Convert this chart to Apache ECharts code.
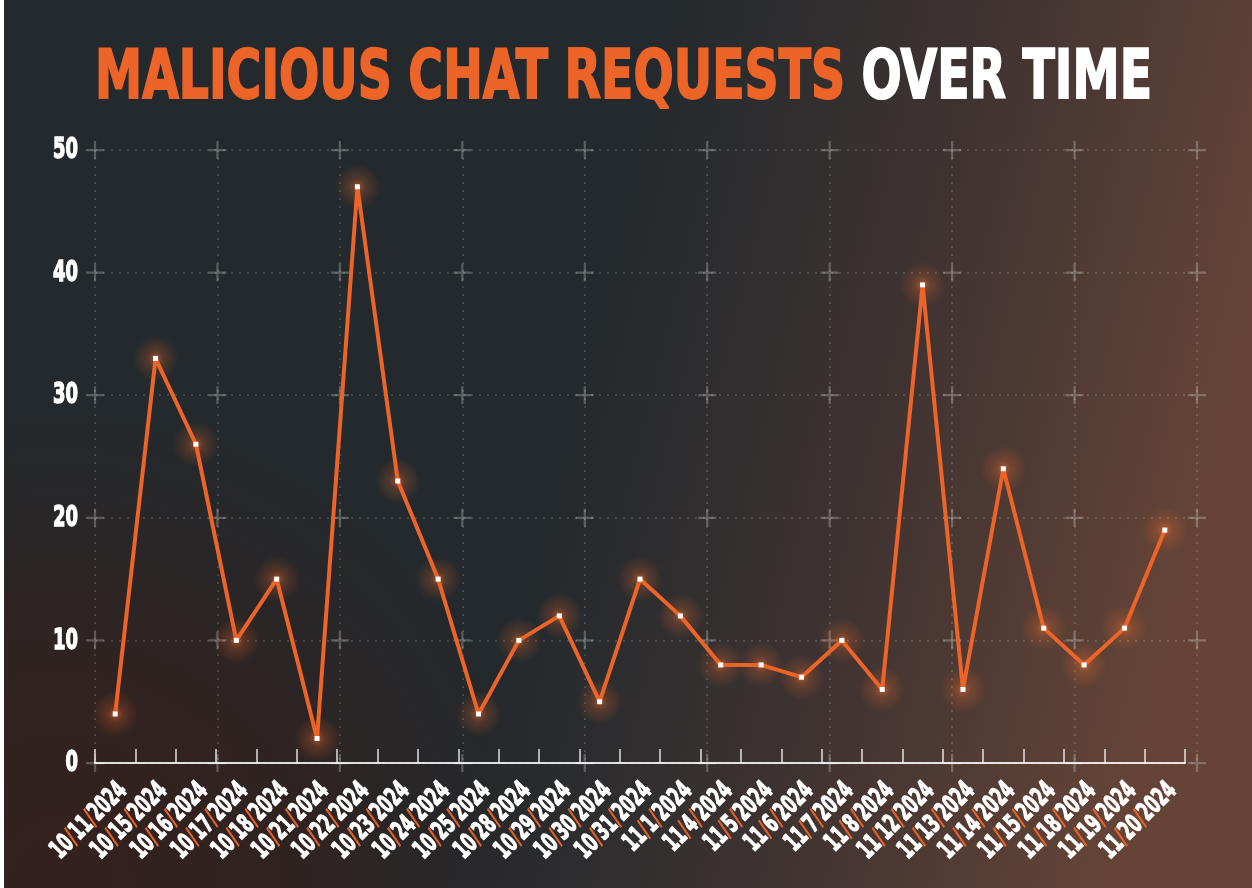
<!DOCTYPE html>
<html>
<head>
<meta charset="utf-8">
<title>Malicious Chat Requests Over Time</title>
<script src="https://cdn.jsdelivr.net/npm/echarts@6/dist/echarts.min.js"></script>
<style>
  html, body { margin: 0; padding: 0; background: #ffffff; }
  #chart { width: 1252px; height: 888px; }
</style>
</head>
<body>
<div id="chart"></div>
<script>
// dates on the x axis
var dates = [
    '10/11/2024', '10/15/2024', '10/16/2024', '10/17/2024', '10/18/2024', '10/21/2024',
    '10/22/2024', '10/23/2024', '10/24/2024', '10/25/2024', '10/28/2024', '10/29/2024',
    '10/30/2024', '10/31/2024', '11/1/2024', '11/4/2024', '11/5/2024', '11/6/2024',
    '11/7/2024', '11/8/2024', '11/12/2024', '11/13/2024', '11/14/2024', '11/15/2024',
    '11/18/2024', '11/19/2024', '11/20/2024'
];

// malicious chat requests per day
var requests = [
    4, 33, 26, 10, 15, 2,
    47, 23, 15, 4, 10, 12,
    5, 15, 12, 8, 8, 7,
    10, 6, 39, 6, 24, 11,
    8, 11, 19
];

// y axis ticks
var yTicks = [0, 10, 20, 30, 40, 50];
// columns of the background cross grid
var crossCols = [0, 1, 2, 3, 4, 5, 6, 7, 8, 9];

var ORANGE = '#ec6427';
var FONT = '"DejaVu Sans", sans-serif';

// no condensed font here, so squeeze the text horizontally
function textWidth(str, size) {
    var ctx = document.createElement('canvas').getContext('2d');
    ctx.font = 'bold ' + size + 'px "DejaVu Sans"';
    return ctx.measureText(str).width;
}
var TITLE_SIZE = 68;
var titleScale = 1057 / textWidth('MALICIOUS CHAT REQUESTS OVER TIME', TITLE_SIZE);
var LABEL_SIZE = 26;
var labelScale = 96 / textWidth('10/11/2024', LABEL_SIZE);
var YLABEL_SIZE = 28;
var ylabelScale = 25 / textWidth('30', YLABEL_SIZE);

// crosses of the decorative grid
var crosses = [];
crossCols.forEach(function (c) {
    yTicks.forEach(function (t) {
        crosses.push([c, t]);
    });
});

function richPart(color, size, stroke) {
    return {
        fill: color, fontSize: size, fontWeight: 'bold', fontFamily: FONT,
        stroke: color, lineWidth: stroke
    };
}

var myChart = echarts.init(document.getElementById('chart'));

var option = {
    backgroundColor: '#23292d',
    animation: false,
    graphic: [
        {
            type: 'rect', z: -10, silent: true,
            shape: { x: 0, y: 0, width: 1252, height: 888 },
            style: {
                fill: new echarts.graphic.LinearGradient(0, 0, 1, 0.35, [
                    { offset: 0, color: '#23292d' },
                    { offset: 0.5, color: '#23292d' },
                    { offset: 0.75, color: '#3f3331' },
                    { offset: 1, color: '#654437' }
                ])
            }
        },
        {
            type: 'rect', z: -9, silent: true,
            shape: { x: 0, y: 0, width: 1252, height: 888 },
            style: {
                fill: new echarts.graphic.RadialGradient(0.05, 1, 0.55, [
                    { offset: 0, color: 'rgba(52,33,29,1)' },
                    { offset: 0.5, color: 'rgba(52,33,29,0.7)' },
                    { offset: 1, color: 'rgba(52,33,29,0)' }
                ])
            }
        },
        {
            type: 'rect', z: 100, silent: true,
            shape: { x: 0, y: 0, width: 4, height: 888 },
            style: { fill: '#ffffff' }
        },
        {
            type: 'text', z: 50, silent: true,
            x: 623.5, y: 80,
            scaleX: titleScale,
            style: {
                text: '{a|MALICIOUS CHAT REQUESTS}{b| OVER TIME}',
                align: 'center',
                verticalAlign: 'middle',
                rich: {
                    a: richPart(ORANGE, TITLE_SIZE, 2),
                    b: richPart('#ffffff', TITLE_SIZE, 2)
                }
            }
        }
    ],
    grid: [
        { left: 95, right: 67, top: 150, bottom: 125 },
        { left: 95, right: 55, top: 150, bottom: 125 }
    ],
    xAxis: [
        {
            type: 'category',
            gridIndex: 0,
            data: dates,
            boundaryGap: true,
            axisLine: { lineStyle: { color: 'rgba(255,255,255,0.85)', width: 2 } },
            axisTick: {
                show: true, inside: true, length: 14, interval: 0,
                lineStyle: { color: 'rgba(255,255,255,0.85)', width: 1.5 }
            },
            axisLabel: { show: false },
            splitLine: { show: false }
        },
        {
            type: 'value',
            gridIndex: 1,
            min: 0, max: 9, interval: 1,
            axisLine: { show: false },
            axisTick: { show: false },
            axisLabel: { show: false },
            splitLine: { show: true, lineStyle: { color: 'rgba(255,255,255,0.2)', type: [2, 6], width: 1.5 } }
        }
    ],
    yAxis: [
        {
            type: 'value',
            gridIndex: 0,
            min: 0, max: 50, interval: 10,
            axisLine: { show: false },
            axisTick: { show: false },
            axisLabel: { show: false },
            splitLine: { show: false }
        },
        {
            type: 'value',
            gridIndex: 1,
            min: 0, max: 50, interval: 10,
            axisLine: { show: false },
            axisTick: { show: false },
            axisLabel: { show: false },
            splitLine: { show: true, lineStyle: { color: 'rgba(255,255,255,0.2)', type: [2, 6], width: 1.5 } }
        }
    ],
    series: [
        {
            name: 'grid crosses',
            type: 'scatter',
            xAxisIndex: 1,
            yAxisIndex: 1,
            silent: true,
            symbol: 'path://M7,0H9V7H16V9H9V16H7V9H0V7H7Z',
            symbolSize: 18,
            itemStyle: { color: 'rgba(255,255,255,0.3)' },
            data: crosses,
            z: 1
        },
        {
            // rotated date labels, squeezed to look condensed
            name: 'date labels',
            type: 'custom',
            xAxisIndex: 0,
            yAxisIndex: 0,
            silent: true,
            clip: false,
            data: dates.map(function (d) { return [d]; }),
            renderItem: function (params, api) {
                var p = api.coord([api.value(0), 0]);
                var parts = dates[params.dataIndex].split('/');
                return {
                    type: 'text',
                    x: p[0] + 8,
                    y: p[1] + 24,
                    rotation: Math.PI / 4,
                    scaleX: labelScale,
                    style: {
                        text: '{w|' + parts[0] + '}{o|/}{w|' + parts[1] + '}{o|/}{w|' + parts[2] + '}',
                        align: 'right',
                        verticalAlign: 'middle',
                        rich: {
                            w: richPart('#ffffff', LABEL_SIZE, 1.3),
                            o: richPart(ORANGE, LABEL_SIZE, 0.6)
                        }
                    }
                };
            },
            z: 3
        },
        {
            // value labels of the y axis, squeezed the same way
            name: 'value labels',
            type: 'custom',
            xAxisIndex: 0,
            yAxisIndex: 0,
            silent: true,
            clip: false,
            data: yTicks.map(function (t) { return [0, t]; }),
            renderItem: function (params, api) {
                var p = api.coord([0, api.value(1)]);
                return {
                    type: 'text',
                    x: params.coordSys.x - 17,
                    y: p[1] + 1,
                    scaleX: ylabelScale,
                    style: {
                        text: String(yTicks[params.dataIndex]),
                        align: 'right',
                        verticalAlign: 'middle',
                        fill: '#ffffff',
                        stroke: '#ffffff',
                        lineWidth: 1.5,
                        fontSize: YLABEL_SIZE,
                        fontWeight: 'bold',
                        fontFamily: FONT
                    }
                };
            },
            z: 3
        },
        {
            name: 'glow',
            type: 'scatter',
            xAxisIndex: 0,
            yAxisIndex: 0,
            silent: true,
            data: requests,
            symbol: 'circle',
            symbolSize: 46,
            itemStyle: {
                color: new echarts.graphic.RadialGradient(0.5, 0.5, 0.5, [
                    { offset: 0, color: 'rgba(255,120,50,0.65)' },
                    { offset: 0.35, color: 'rgba(255,110,40,0.27)' },
                    { offset: 1, color: 'rgba(255,110,40,0)' }
                ])
            },
            z: 4
        },
        {
            name: 'Malicious chat requests',
            type: 'line',
            xAxisIndex: 0,
            yAxisIndex: 0,
            data: requests,
            symbol: 'rect',
            symbolSize: 5,
            showAllSymbol: true,
            lineStyle: { color: ORANGE, width: 4 },
            itemStyle: { color: '#ffffff', borderWidth: 0 },
            z: 5
        }
    ]
};

myChart.setOption(option);
</script>
</body>
</html>
